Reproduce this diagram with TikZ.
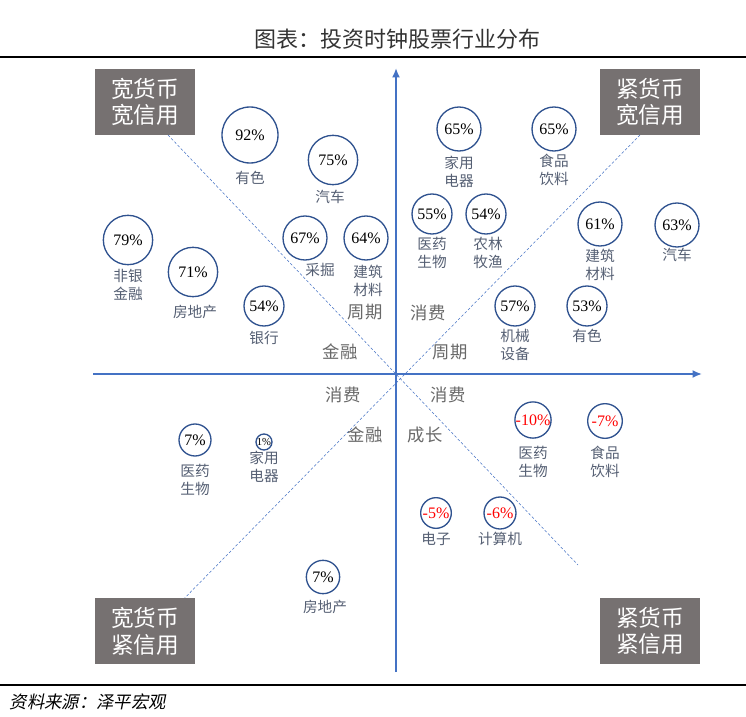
\documentclass[tikz,border=0pt]{standalone}
\usepackage{fontspec}
\usetikzlibrary{arrows.meta}
\setmainfont{Liberation Serif}
\newfontfamily\cjk{Noto Sans CJK SC}
\newfontfamily\cjkit[FakeSlant=0.2]{Noto Sans CJK SC}
\definecolor{axblue}{RGB}{68,114,196}
\definecolor{cblue}{RGB}{47,82,143}
\definecolor{lblc}{RGB}{85,95,115}
\definecolor{boxg}{RGB}{118,113,113}
\definecolor{secg}{RGB}{105,105,105}
\tikzset{
  bub/.style={circle,draw=cblue,line width=1pt,minimum size=#1,inner sep=0pt,font=\fontsize{12}{12}\selectfont},
  lbl/.style={text=lblc,font=\cjk\fontsize{11}{13}\selectfont,align=center},
  sec/.style={text=secg,font=\cjk\fontsize{13}{15}\selectfont},
  corner/.style={fill=boxg,text=white,minimum width=75pt,minimum height=49pt,align=center,font=\cjk\fontsize{17}{20}\selectfont},
  neg/.style={text=red}
}
\begin{document}
\begin{tikzpicture}[x=0.75pt,y=-0.75pt]
\useasboundingbox (0,0) rectangle (746,717);
\node[font=\cjk\fontsize{16.5}{18}\selectfont,text=black!80] (title) at (397,39) {图表：投资时钟股票行业分布};
\draw[line width=2pt] (0,57) -- (746,57);
\draw[line width=1pt] (0,685) -- (746,685);
\node[anchor=west,font=\cjkit\fontsize{13}{15}\selectfont] (src) at (5,702) {资料来源：泽平宏观};
% diagonals
\coordinate (d1a) at (168,135); \coordinate (d1b) at (578,565);
\coordinate (d2a) at (640,135); \coordinate (d2b) at (168,615);
\draw[axblue,dash pattern=on 2pt off 1.5pt,line width=0.4pt] (d1a) -- (d1b);
\draw[axblue,dash pattern=on 2pt off 1.5pt,line width=0.4pt] (d2a) -- (d2b);
% axes
\coordinate (hx0) at (93,374); \coordinate (hx1) at (702,374);
\coordinate (vy0) at (396,672); \coordinate (vy1) at (396,68);
\draw[axblue,line width=1.8pt,-{Latex[length=7pt,width=6pt]}] (hx0) -- (hx1);
\draw[axblue,line width=1.8pt,-{Latex[length=7pt,width=6pt]}] (vy0) -- (vy1);
% corners
\node[corner] (c1) at (145,102) {宽货币\\宽信用};
\node[corner] (c2) at (650,102) {紧货币\\宽信用};
\node[corner] (c3) at (145,631) {宽货币\\紧信用};
\node[corner] (c4) at (650,631) {紧货币\\紧信用};
% sectors
\node[sec] (s1) at (365,312) {周期};
\node[sec] (s2) at (340,352) {金融};
\node[sec] (s3) at (428,313) {消费};
\node[sec] (s4) at (450,352) {周期};
\node[sec] (s5) at (343,395) {消费};
\node[sec] (s6) at (448,395) {消费};
\node[sec] (s7) at (365,435) {金融};
\node[sec] (s8) at (425,435) {成长};
% top-left
\node[bub=42pt] (b1) at (250,135) {92\%}; \node[lbl] (l1) at (250,178) {有色};
\node[bub=37pt] (b2) at (333,160) {75\%}; \node[lbl] (l2) at (330,197) {汽车};
\node[bub=37pt] (b3) at (128,240) {79\%}; \node[lbl] (l3) at (128,285) {非银\\金融};
\node[bub=37pt] (b4) at (193,272) {71\%}; \node[lbl] (l4) at (195,312) {房地产};
\node[bub=33pt] (b5) at (305,238) {67\%}; \node[lbl] (l5) at (320,270) {采掘};
\node[bub=33pt] (b6) at (366,238) {64\%}; \node[lbl] (l6) at (368,281) {建筑\\材料};
\node[bub=30pt] (b7) at (264,306) {54\%}; \node[lbl] (l7) at (264,338) {银行};
% top-right
\node[bub=33pt] (b8) at (459,129) {65\%}; \node[lbl] (l8) at (459,172) {家用\\电器};
\node[bub=33pt] (b9) at (554,129) {65\%}; \node[lbl] (l9) at (554,170) {食品\\饮料};
\node[bub=30pt] (b10) at (432,214) {55\%}; \node[lbl] (l10) at (432,253) {医药\\生物};
\node[bub=30pt] (b11) at (486,214) {54\%}; \node[lbl] (l11) at (488,253) {农林\\牧渔};
\node[bub=33pt] (b12) at (600,224) {61\%}; \node[lbl] (l12) at (600,265) {建筑\\材料};
\node[bub=33pt] (b13) at (677,225) {63\%}; \node[lbl] (l13) at (677,255) {汽车};
\node[bub=30pt] (b14) at (515,306) {57\%}; \node[lbl] (l14) at (515,345) {机械\\设备};
\node[bub=30pt] (b15) at (587,306) {53\%}; \node[lbl] (l15) at (587,336) {有色};
% bottom-left
\node[bub=24pt] (b16) at (195,440) {7\%}; \node[lbl] (l16) at (195,480) {医药\\生物};
\node[bub=12pt,font=\fontsize{8}{8}\selectfont] (b17) at (264,442) {1\%}; \node[lbl] (l17) at (264,467) {家用\\电器};
\node[bub=25pt] (b18) at (323,577) {7\%}; \node[lbl] (l18) at (325,607) {房地产};
% bottom-right
\node[bub=26pt,neg] (b19) at (533,420) {-10\%}; \node[lbl] (l19) at (533,462) {医药\\生物};
\node[bub=26pt,neg] (b20) at (605,421) {-7\%}; \node[lbl] (l20) at (605,462) {食品\\饮料};
\node[bub=23pt,neg] (b21) at (436,513) {-5\%}; \node[lbl] (l21) at (436,539) {电子};
\node[bub=24pt,neg] (b22) at (500,513) {-6\%}; \node[lbl] (l22) at (500,539) {计算机};
\end{tikzpicture}
\end{document}
